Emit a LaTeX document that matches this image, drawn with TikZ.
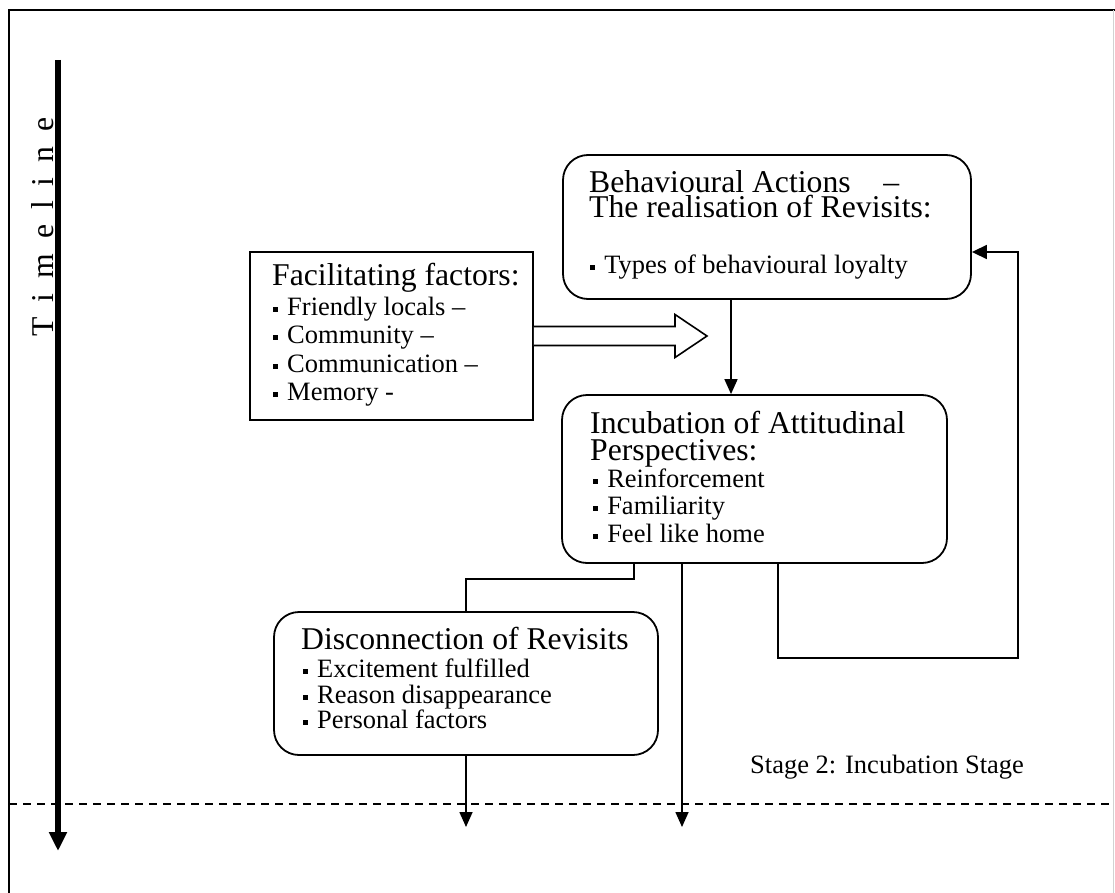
\documentclass[tikz,border=0pt]{standalone}
\usepackage{fontspec}
\setmainfont{Liberation Serif}
\usetikzlibrary{arrows.meta,calc}
\newcommand{\bul}{\rule[0.12em]{0.19em}{0.19em}\hspace{0.34em}}
\begin{document}
\begin{tikzpicture}[x=1pt,y=-1pt,
  box/.style={draw,line width=1.8pt,inner sep=0pt},
  rbox/.style={box,rounded corners=25pt},
  ttl/.style={anchor=base west,inner sep=0pt,font=\fontsize{31.7}{32}\selectfont},
  itm/.style={anchor=base west,inner sep=0pt,font=\fontsize{26.5}{27}\selectfont},
  conn/.style={line width=1.6pt},
  arr/.style={conn,-{Triangle[length=15pt,width=13pt]}},
  fbarr/.style={conn,-{Triangle[length=15pt,width=14pt]}},
]
\useasboundingbox (0,0) rectangle (1115,893);
% frame
\coordinate (fr-bl) at (9,893);
\coordinate (fr-tl) at (9,10);
\coordinate (fr-tr) at (1115,10);
\draw[line width=2pt] (fr-bl) -- (fr-tl) -- (fr-tr);
\coordinate (fr-r1) at (1113,10);
\coordinate (fr-r2) at (1113,893);
\draw[gray!35,line width=1pt] (fr-r1) -- (fr-r2);

% boxes
\node[box,minimum width=283pt,minimum height=168pt] (fac) at (391.5,336) {};
\node[rbox,minimum width=408pt,minimum height=144pt] (beh) at (767,227) {};
\node[rbox,minimum width=385pt,minimum height=168pt] (inc) at (754.5,479) {};
\node[rbox,minimum width=384pt,minimum height=143pt] (dis) at (466,683.5) {};

% texts
\node[ttl] (fac-t) at (272,285) {Facilitating factors:};
\node[itm] (fac-1) at (273,315) {\bul Friendly locals –};
\node[itm] (fac-2) at (273,343) {\bul Community –};
\node[itm] (fac-3) at (273,372) {\bul Communication –};
\node[itm] (fac-4) at (273,400) {\bul Memory -};

\node[ttl] (beh-t1) at (589,193) {Behavioural Actions\hspace{1.03em}–};
\node[ttl] (beh-t2) at (589,218) {The realisation of Revisits:};
\node[itm] (beh-1) at (590,273) {\bul Types of behavioural loyalty};

\node[ttl] (inc-t1) at (590,433) {Incubation of Attitudinal};
\node[ttl] (inc-t2) at (590,460) {Perspectives:};
\node[itm] (inc-1) at (593,487) {\bul Reinforcement};
\node[itm] (inc-2) at (593,514) {\bul Familiarity};
\node[itm] (inc-3) at (593,542) {\bul Feel like home};

\node[ttl] (dis-t) at (301,649) {Disconnection of Revisits};
\node[itm] (dis-1) at (303,677) {\bul Excitement fulfilled};
\node[itm] (dis-2) at (303,703) {\bul Reason disappearance};
\node[itm] (dis-3) at (303,728) {\bul Personal factors};

\node[itm] (stage) at (750,773) {Stage 2: Incubation Stage};

% timeline
\coordinate (tl-top) at (58,60);
\coordinate (tl-end) at (58,851);
\draw[line width=5.5pt,-{Triangle[length=19pt,width=17pt]}] (tl-top) -- (tl-end);
\node[rotate=90,anchor=base,inner sep=0pt,font=\fontsize{31.7}{32}\selectfont] (tl-lbl) at (53,227) {\spaceskip=15pt T i m e l i n e};

% stage separator
\coordinate (d-l) at (9,804);
\coordinate (d-r) at (1115,804);
\draw[line width=2pt,dash pattern=on 8pt off 6pt] (d-l) -- (d-r);

% connectors
\coordinate (xa) at (731,0);
\draw[arr] (xa |- beh.south) -- (xa |- inc.north);

\coordinate (ba-tip) at (707,336);
\draw[line width=1.6pt,fill=white,line join=miter] ($(fac.east)+(0,-9.5)$) -- (675,326.5) -- (675,314.5) -- (ba-tip) -- (675,357.5) -- (675,345.5) -- ($(fac.east)+(0,9.5)$);

\coordinate (xb) at (634,579);
\draw[conn] (xb |- inc.south) -- (xb) -| (dis.north);

\coordinate (xc-end) at (682,827);
\draw[arr] (xc-end |- inc.south) -- (xc-end);

\coordinate (xd-end) at (467,827);
\draw[arr] (dis.south) -- (dis.south |- xd-end);

\coordinate (fb1) at (778,658);
\coordinate (fb2) at (1018,252);
\draw[fbarr] (fb1 |- inc.south) -- (fb1) -| (fb2) -- (fb2 -| beh.east);
\end{tikzpicture}
\end{document}
